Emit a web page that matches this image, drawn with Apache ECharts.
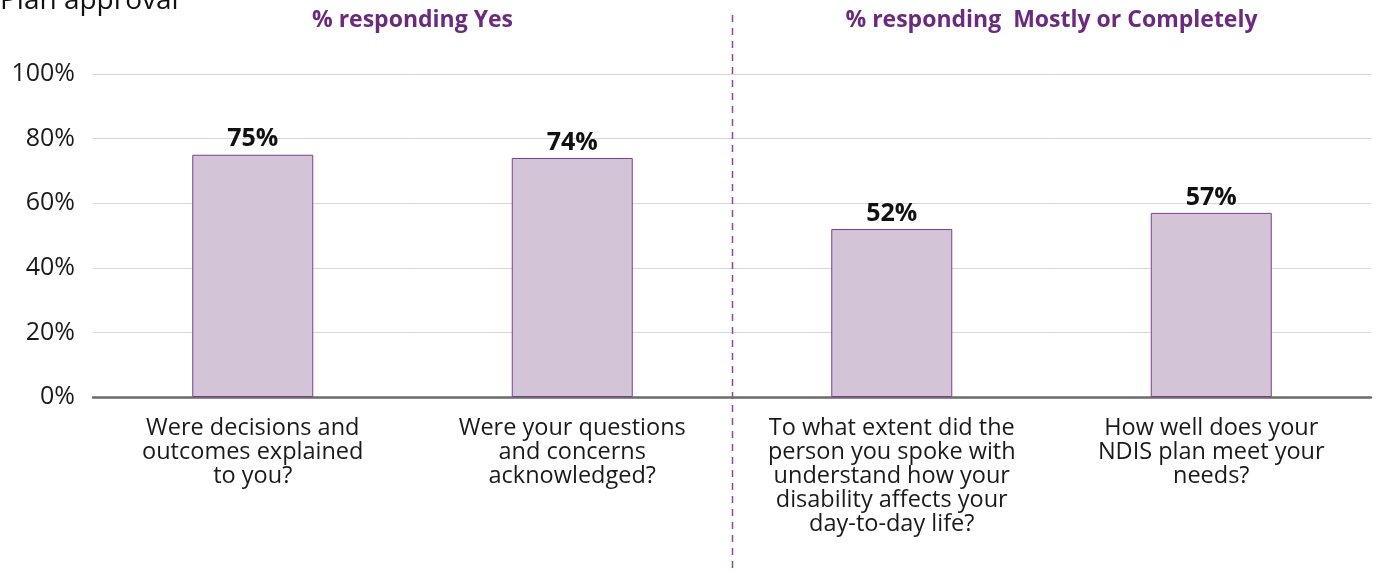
<!DOCTYPE html>
<html>
<head>
<meta charset="utf-8">
<style>
  html, body { margin: 0; padding: 0; background: #fff; }
  #chart { width: 1381px; height: 573px; }
</style>
<script src="https://cdn.jsdelivr.net/npm/echarts@6/dist/echarts.min.js"></script>
</head>
<body>
<div id="chart"></div>
<script>
// Survey questions (x-axis) and share of favourable responses
const categories = [
  'Were decisions and\noutcomes explained\nto you?',
  'Were your questions\nand concerns\nacknowledged?',
  'To what extent did the\nperson you spoke with\nunderstand how your\ndisability affects your\nday-to-day life?',
  'How well does your\nNDIS plan meet your\nneeds?'
];
const values = [75, 74, 52, 57];
const groupTitles = ['% responding Yes', '% responding  Mostly or Completely'];
const chartTitle = 'Plan approval';

const FONT = '"Open Sans", "Noto Sans", sans-serif';
const PURPLE = '#6b2a7e';

const chart = echarts.init(document.getElementById('chart'), null, { renderer: 'canvas' });

const option = {
  animation: false,
  grid: { left: 93, right: 10, top: 74, bottom: 176 },
  xAxis: {
    type: 'category',
    data: categories,
    axisLine: { show: true, lineStyle: { color: '#6b6b6b', width: 2.5 } },
    axisTick: { show: false },
    axisLabel: {
      color: '#1a1a1a', fontSize: 23.5, fontFamily: FONT,
      lineHeight: 24, margin: 19, interval: 0
    }
  },
  yAxis: {
    type: 'value', min: 0, max: 100, interval: 20,
    axisLine: { show: false },
    axisTick: { show: false },
    splitLine: { lineStyle: { color: '#d6d6d6', width: 1 } },
    axisLabel: {
      formatter: '{value}%', color: '#1a1a1a', fontSize: 25,
      fontFamily: FONT, margin: 18
    }
  },
  series: [{
    type: 'bar',
    data: values,
    barWidth: 121,
    itemStyle: { color: '#d4c4d8', borderColor: '#7b3f90', borderWidth: 1 },
    label: {
      show: true, position: 'top', formatter: '{c}%', distance: 3,
      color: '#111', fontSize: 25, fontWeight: 'bold', fontFamily: FONT
    }
  }]
};
chart.setOption(option);

// Divider between the two question groups, plus group headings and chart title
function addDecorations() {
  const p = i => chart.convertToPixel({ xAxisIndex: 0 }, i);
  const mid = (p(1) + p(2)) / 2;
  const left = (p(0) + p(1)) / 2;
  const right = (p(2) + p(3)) / 2;
  chart.setOption({
    graphic: [
      {
        type: 'line', silent: true,
        shape: { x1: Math.round(mid) + 0.5, y1: 15, x2: Math.round(mid) + 0.5, y2: 573 },
        style: { stroke: '#8a4a9c', lineWidth: 1.5, lineDash: [7, 6] }
      },
      {
        type: 'text', x: left, y: 20,
        style: { text: groupTitles[0], fill: PURPLE, font: 'bold 23px ' + FONT, textAlign: 'center', textVerticalAlign: 'middle' }
      },
      {
        type: 'text', x: right, y: 20,
        style: { text: groupTitles[1], fill: PURPLE, font: 'bold 23px ' + FONT, textAlign: 'center', textVerticalAlign: 'middle' }
      },
      {
        type: 'text', x: 0, y: 15,
        style: { text: chartTitle, fill: '#111', font: '28px ' + FONT, textAlign: 'left', textVerticalAlign: 'bottom' }
      }
    ]
  });
}
addDecorations();
</script>
</body>
</html>
